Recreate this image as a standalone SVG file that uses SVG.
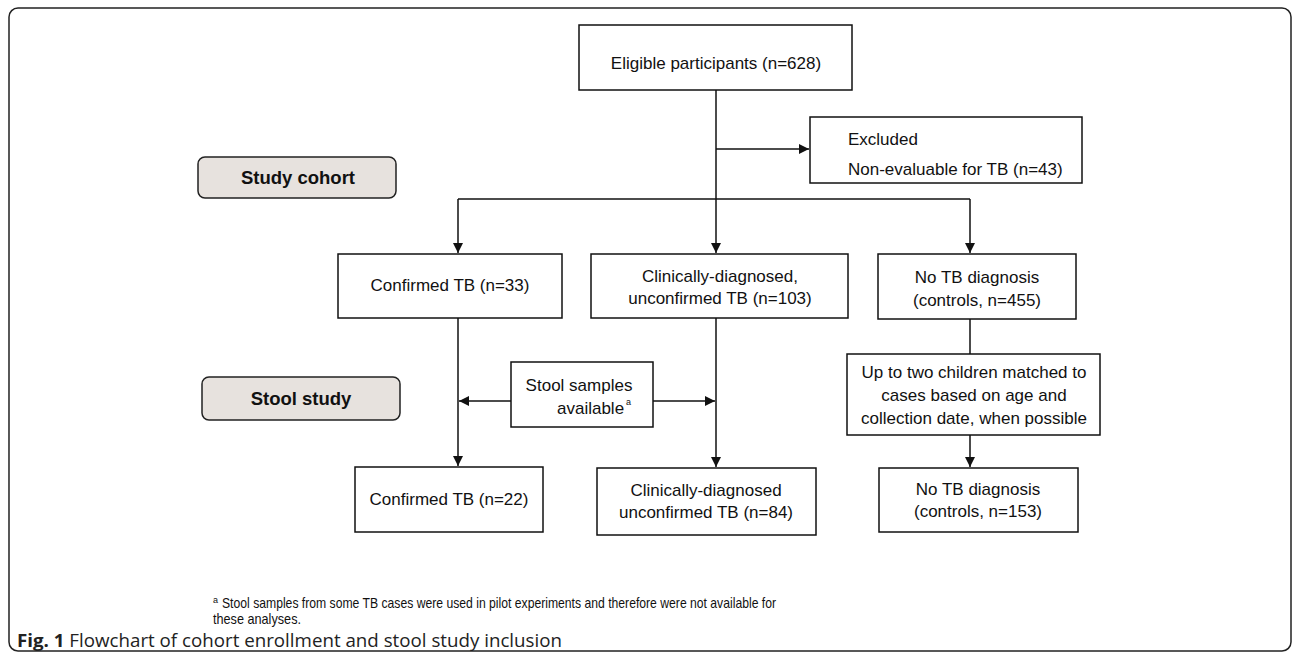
<svg xmlns="http://www.w3.org/2000/svg" width="1292" height="653" viewBox="0 0 1292 653">
<style>
.frame{fill:#fff;stroke:#222;stroke-width:1.5}
.box{fill:#fff;stroke:#111;stroke-width:1.5}
.tag{fill:#e7e2de;stroke:#222;stroke-width:1.5}
.t{font-family:"Liberation Sans",Arial,sans-serif;font-size:17px;fill:#111}
.c{text-anchor:middle}
.b{font-family:"Liberation Sans",Arial,sans-serif;font-size:18.5px;font-weight:bold;fill:#111;text-anchor:middle}
.ln{fill:none;stroke:#111;stroke-width:1.5}
.fn{font-family:"Liberation Sans",Arial,sans-serif;font-size:14.5px;fill:#111}
.sup{font-family:"Liberation Sans",Arial,sans-serif;font-size:9px;fill:#111}
.cap{font-family:"Open Sans","Noto Sans",sans-serif;font-size:18px;fill:#222}
</style>
<defs>
<marker id="ah" viewBox="0 0 10 10" refX="10" refY="5" markerWidth="10" markerHeight="10" markerUnits="userSpaceOnUse" orient="auto">
<path d="M0,0 L10,5 L0,10 z" fill="#111"/>
</marker>
</defs>
<rect class="frame" x="9" y="8" width="1282" height="643" rx="9"/>

<g id="connectors">
<path class="ln" d="M716,90 V199"/>
<path class="ln" d="M716,149 H809" marker-end="url(#ah)"/>
<path class="ln" d="M458,199 H970"/>
<path class="ln" d="M458,199 V253" marker-end="url(#ah)"/>
<path class="ln" d="M716,199 V253" marker-end="url(#ah)"/>
<path class="ln" d="M970,199 V253" marker-end="url(#ah)"/>
<path class="ln" d="M458,318 V466" marker-end="url(#ah)"/>
<path class="ln" d="M716,318 V467" marker-end="url(#ah)"/>
<path class="ln" d="M511,401 H459" marker-end="url(#ah)"/>
<path class="ln" d="M653,401 H715" marker-end="url(#ah)"/>
<path class="ln" d="M970,319 V354"/>
<path class="ln" d="M970,435 V467" marker-end="url(#ah)"/>
</g>

<g id="eligible">
<rect class="box" x="579" y="25" width="273" height="65"/>
<text class="t c" x="716" y="69">Eligible participants (n=628)</text>
</g>
<g id="excluded">
<rect class="box" x="810" y="117" width="272" height="66"/>
<text class="t" x="848" y="145">Excluded</text>
<text class="t" x="848" y="175">Non-evaluable for TB (n=43)</text>
</g>
<g id="study-cohort">
<rect class="tag" x="198" y="157" width="198" height="41" rx="7"/>
<text class="b" x="298" y="184">Study cohort</text>
</g>
<g id="stool-study">
<rect class="tag" x="202" y="377" width="198" height="43" rx="7"/>
<text class="b" x="301" y="405">Stool study</text>
</g>
<g id="confirmed33">
<rect class="box" x="338" y="254" width="224" height="64"/>
<text class="t c" x="450" y="291">Confirmed TB (n=33)</text>
</g>
<g id="clinical103">
<rect class="box" x="591" y="254" width="257" height="64"/>
<text class="t c" x="720" y="282">Clinically-diagnosed,</text>
<text class="t c" x="720" y="304">unconfirmed TB (n=103)</text>
</g>
<g id="notb455">
<rect class="box" x="878" y="254" width="198" height="65"/>
<text class="t c" x="977" y="283">No TB diagnosis</text>
<text class="t c" x="977" y="306">(controls, n=455)</text>
</g>
<g id="stool-samples">
<rect class="box" x="511" y="362" width="142" height="65"/>
<text class="t c" x="579" y="391">Stool samples</text>
<text class="t" x="557" y="414">available</text>
<text class="sup" x="626" y="405">a</text>
</g>
<g id="matching">
<rect class="box" x="847" y="354" width="253" height="81"/>
<text class="t c" x="974" y="378">Up to two children matched to</text>
<text class="t c" x="974" y="401">cases based on age and</text>
<text class="t c" x="974" y="424">collection date, when possible</text>
</g>
<g id="confirmed22">
<rect class="box" x="355" y="467" width="188" height="65"/>
<text class="t c" x="449" y="505">Confirmed TB (n=22)</text>
</g>
<g id="clinical84">
<rect class="box" x="597" y="468" width="219" height="67"/>
<text class="t c" x="706" y="496">Clinically-diagnosed</text>
<text class="t c" x="706" y="518">unconfirmed TB (n=84)</text>
</g>
<g id="notb153">
<rect class="box" x="879" y="468" width="199" height="64"/>
<text class="t c" x="978" y="495">No TB diagnosis</text>
<text class="t c" x="978" y="517">(controls, n=153)</text>
</g>

<g id="footnote">
<text class="sup" x="213" y="603">a</text>
<text class="fn" x="222" y="608" textLength="554" lengthAdjust="spacingAndGlyphs">Stool samples from some TB cases were used in pilot experiments and therefore were not available for</text>
<text class="fn" x="213" y="624" textLength="88" lengthAdjust="spacingAndGlyphs">these analyses.</text>
</g>
<text class="cap" x="17" y="647" textLength="545" lengthAdjust="spacingAndGlyphs"><tspan font-weight="bold">Fig. 1</tspan> Flowchart of cohort enrollment and stool study inclusion</text>
</svg>
